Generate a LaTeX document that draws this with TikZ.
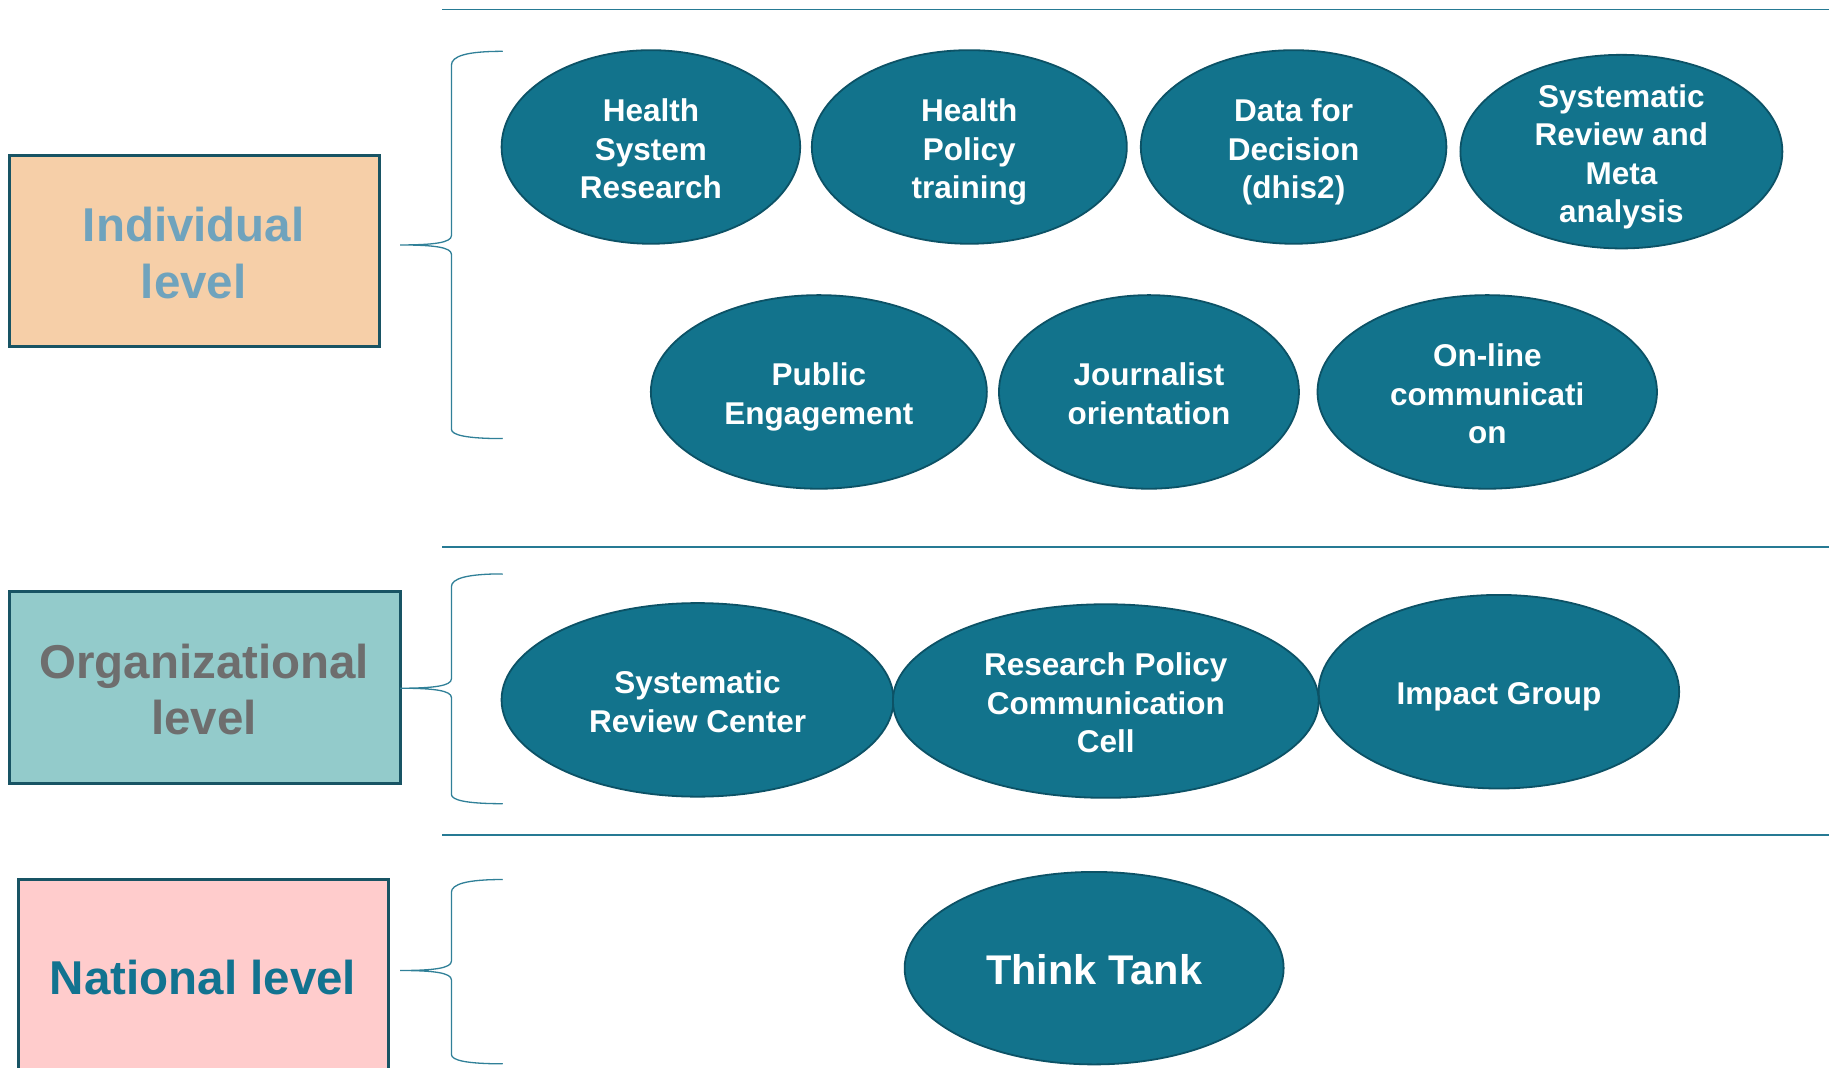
\documentclass[tikz,border=0pt]{standalone}
\usepackage{fontspec}
\setmainfont{Liberation Sans}
\usetikzlibrary{shapes.geometric}
\definecolor{bubfill}{RGB}{18,115,140}
\definecolor{bubline}{RGB}{12,82,102}
\definecolor{boxline}{RGB}{24,84,100}
\definecolor{rule}{RGB}{38,122,148}
\definecolor{bracec}{RGB}{48,128,152}
\definecolor{indfill}{RGB}{246,207,168}
\definecolor{indtext}{RGB}{111,163,189}
\definecolor{orgfill}{RGB}{147,203,203}
\definecolor{orgtext}{RGB}{110,110,110}
\definecolor{natfill}{RGB}{255,204,204}
\definecolor{nattext}{RGB}{18,115,144}
\tikzset{
  bub/.style={ellipse, draw=bubline, fill=bubfill, line width=1.8pt, inner sep=0pt},
  btxt/.style={text=white, font=\fontsize{31.5}{38.5}\selectfont\bfseries, align=center, inner sep=0pt, yshift=-5.5pt},
  lvlbox/.style={rectangle, draw=boxline, line width=3pt, inner sep=0pt},
  hrule/.style={draw=rule, line width=1.6pt},
  bracel/.style={draw=bracec, line width=1.3pt}
}
\begin{document}
\begin{tikzpicture}[x=1.1665pt,y=-1.1665pt]
\useasboundingbox (0,0) rectangle (1568,915);
\clip (0,0) rectangle (1568,915);
\fill[white] (0,0) rectangle (1568,915);

% horizontal rules
\coordinate (r1a) at (379,8);   \coordinate (r1b) at (1568,8);
\coordinate (r2a) at (379,469); \coordinate (r2b) at (1568,469);
\coordinate (r3a) at (379,716); \coordinate (r3b) at (1568,716);
\draw[hrule] (r1a) -- (r1b);
\draw[hrule] (r2a) -- (r2b);
\draw[hrule] (r3a) -- (r3b);

% level boxes
\node[lvlbox, fill=indfill, minimum width=369.8pt, minimum height=191.3pt] (ind) at (166.5,215) {};
\node[text=indtext, font=\fontsize{47.5}{57}\selectfont\bfseries, align=center] (indt) at (166,217) {Individual\\level};

\node[lvlbox, fill=orgfill, minimum width=390.8pt, minimum height=192.5pt] (org) at (175.5,589.5) {};
\node[text=orgtext, font=\fontsize{47.5}{56}\selectfont\bfseries, align=center] (orgt) at (175,591) {Organizational\\level};

\node[lvlbox, fill=natfill, minimum width=369.8pt, minimum height=210pt] (nat) at (174.5,844) {};
\node[text=nattext, font=\fontsize{47.5}{56}\selectfont\bfseries, align=center] (natt) at (174,838) {National level};

% braces
\draw[bracel] (431,44) .. controls (400,44) and (387,48) .. (387,56) -- (387,202)
  .. controls (387,208) and (372,210) .. (343,210)
  .. controls (372,210) and (387,212) .. (387,218) -- (387,368)
  .. controls (387,373) and (400,376) .. (431,376);
\draw[bracel] (431,492) .. controls (400,492) and (387,496) .. (387,503) -- (387,582)
  .. controls (387,588) and (372,590) .. (343,590)
  .. controls (372,590) and (387,592) .. (387,598) -- (387,681)
  .. controls (387,686) and (400,689) .. (431,689);
\draw[bracel] (431,754) .. controls (400,754) and (387,758) .. (387,765) -- (387,824)
  .. controls (387,830) and (372,832) .. (343,832)
  .. controls (372,832) and (387,834) .. (387,840) -- (387,904)
  .. controls (387,909) and (400,912) .. (431,912);

% individual level bubbles
\node[bub, minimum width=298.6pt, minimum height=193.6pt] (e1) at (558,126) {};
\node[btxt] at (e1) {\strut Health\\System\\Research\strut};
\node[bub, minimum width=315pt, minimum height=193.6pt] (e2) at (831,126) {};
\node[btxt] at (e2) {\strut Health\\Policy\\training\strut};
\node[bub, minimum width=305.6pt, minimum height=193.6pt] (e3) at (1109,126) {};
\node[btxt] at (e3) {\strut Data for\\Decision\\(dhis2)\strut};
\node[bub, minimum width=322pt, minimum height=193.6pt] (e4) at (1390,130) {};
\node[btxt] at (e4) {\strut Systematic\\Review and\\Meta\\analysis\strut};
\node[bub, minimum width=336pt, minimum height=193.6pt] (e5) at (702,336) {};
\node[btxt] at (e5) {\strut Public\\Engagement\strut};
\node[bub, minimum width=300pt, minimum height=193.6pt] (e6) at (985,336) {};
\node[btxt] at (e6) {\strut Journalist\\orientation\strut};
\node[bub, minimum width=339.5pt, minimum height=193.6pt] (e7) at (1275,336) {};
\node[btxt] at (e7) {\strut On-line\\communicati\\on\strut};

% organizational level bubbles
\node[bub, minimum width=392pt, minimum height=193.6pt] (e8) at (598,600) {};
\node[btxt] at (e8) {\strut Systematic\\Review Center\strut};
\node[bub, minimum width=425.8pt, minimum height=193.6pt] (e9) at (948,601) {};
\node[btxt] at (e9) {\strut Research Policy\\Communication\\Cell\strut};
\node[bub, minimum width=360.5pt, minimum height=193.6pt] (e10) at (1285,593) {};
\node[btxt] at (e10) {\strut Impact Group\strut};

% national level bubble
\node[bub, minimum width=379pt, minimum height=192.5pt] (e11) at (938,830) {};
\node[btxt, font=\fontsize{41.5}{48}\selectfont\bfseries, yshift=4.3pt] at (e11) {Think Tank};
\end{tikzpicture}
\end{document}
